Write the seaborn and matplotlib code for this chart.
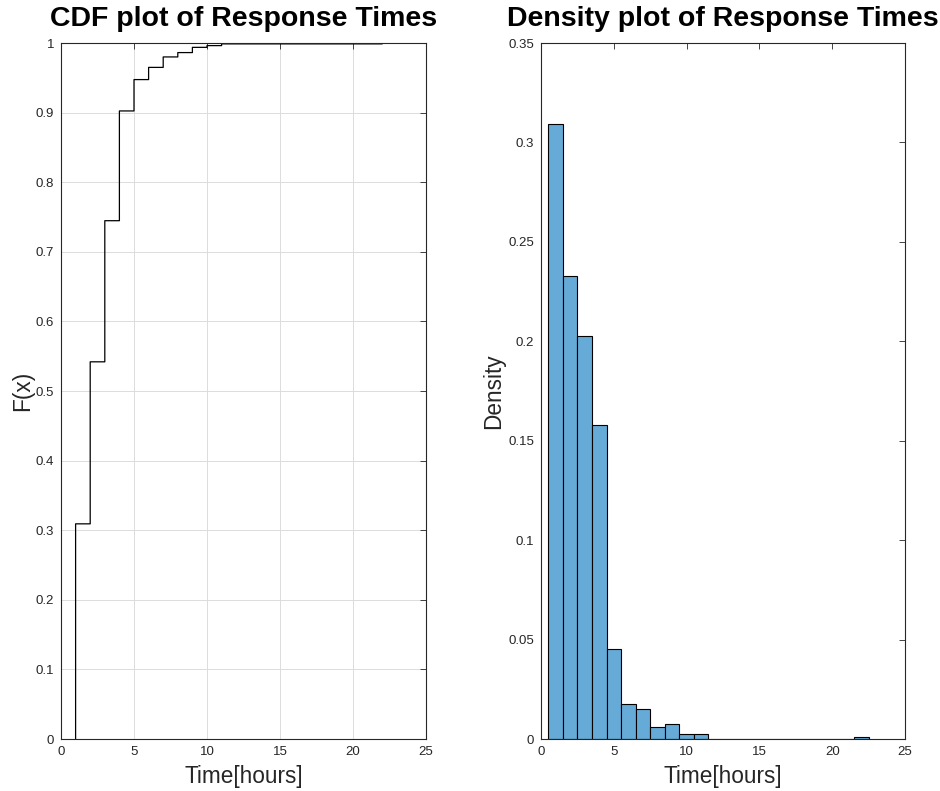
import numpy as np
import pandas as pd
import matplotlib
matplotlib.use("Agg")
import matplotlib.pyplot as plt
import seaborn as sns

# Response time (hours) and number of observations at each value
hours = [1, 2, 3, 4, 5, 6, 7, 8, 9, 10, 11, 22]
counts = [247, 186, 162, 126, 36, 14, 12, 5, 6, 2, 2, 1]

x_ticks = [0, 5, 10, 15, 20, 25]
cdf_yticks = [0, 0.1, 0.2, 0.3, 0.4, 0.5, 0.6, 0.7, 0.8, 0.9, 1]
dens_yticks = [0, 0.05, 0.1, 0.15, 0.2, 0.25, 0.3, 0.35]
bin_edges = np.arange(0.5, 23.0, 1.0)

df = pd.DataFrame({"time": np.repeat(hours, counts)})

sns.set_style("white")
plt.rcParams["font.family"] = ["Liberation Sans", "DejaVu Sans"]
axc = "#262626"
plt.rcParams.update({
    "axes.edgecolor": axc, "xtick.color": axc, "ytick.color": axc,
    "axes.labelcolor": axc, "xtick.direction": "in", "ytick.direction": "in",
    "xtick.top": True, "ytick.right": True,
    "xtick.major.size": 4, "ytick.major.size": 4,
    "xtick.major.width": 0.6, "ytick.major.width": 0.6,
    "axes.linewidth": 0.8,
})

fig = plt.figure(figsize=(9.4, 7.91), dpi=100)
W, H = 940, 791
ax1 = fig.add_axes([61 / W, 1 - 739 / H, (426 - 61) / W, (739 - 43) / H])
ax2 = fig.add_axes([541 / W, 1 - 739 / H, (905 - 541) / W, (739 - 43) / H])

# CDF
sns.ecdfplot(data=df, x="time", ax=ax1, color="black", linewidth=0.9)
ax1.set_xlim(0, 25)
ax1.set_ylim(0, 1)
ax1.set_xticks(x_ticks)
ax1.set_yticks(cdf_yticks)
ax1.set_yticklabels(["0", "0.1", "0.2", "0.3", "0.4", "0.5", "0.6", "0.7", "0.8", "0.9", "1"])
ax1.grid(True, color="#dcdcdc", linewidth=0.7)
ax1.set_axisbelow(True)
ax1.set_xlabel("Time[hours]", fontsize=16.3, labelpad=5)
ax1.set_ylabel("F(x)", fontsize=16.3, labelpad=1)
ax1.set_title("CDF plot of Response Times", fontsize=20.5, fontweight="bold",
              pad=12, color="black")

# Density histogram
sns.histplot(data=df, x="time", bins=bin_edges, stat="density", ax=ax2,
             color="#66aad7", edgecolor="black", linewidth=0.8, alpha=1.0)
ax2.set_xlim(0, 25)
ax2.set_ylim(0, 0.35)
ax2.set_xticks(x_ticks)
ax2.set_yticks(dens_yticks)
ax2.set_yticklabels(["0", "0.05", "0.1", "0.15", "0.2", "0.25", "0.3", "0.35"])
ax2.grid(False)
ax2.set_xlabel("Time[hours]", fontsize=16.3, labelpad=5)
ax2.set_ylabel("Density", fontsize=16.3, labelpad=2)
ax2.set_title("Density plot of Response Times", fontsize=20.5, fontweight="bold",
              pad=12, color="black")

for ax in (ax1, ax2):
    ax.tick_params(labelsize=9.5, pad=5)
    for s in ax.spines.values():
        s.set_visible(True)

fig.savefig("out.png", dpi=100)
